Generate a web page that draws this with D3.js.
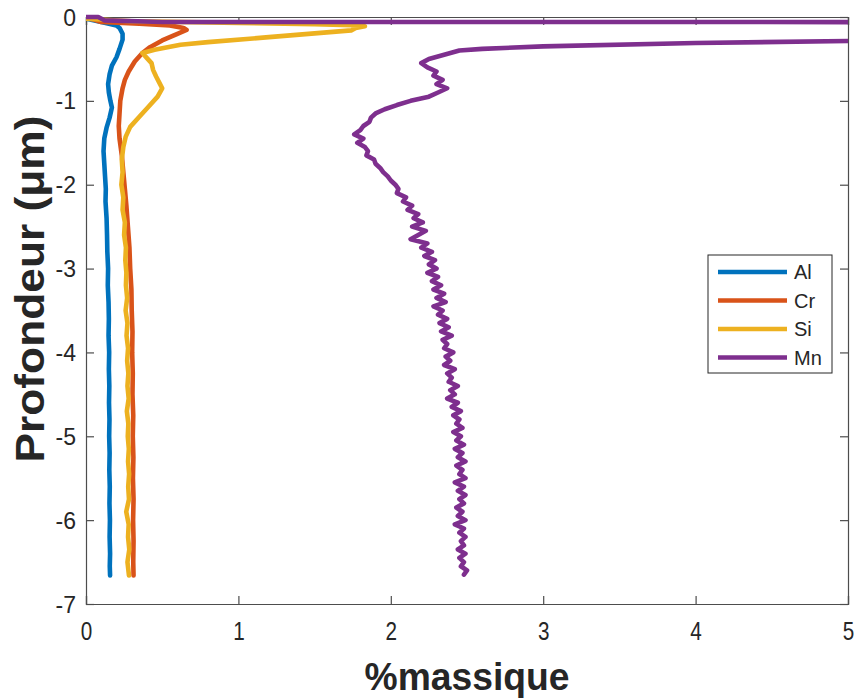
<!DOCTYPE html>
<html><head><meta charset="utf-8">
<script src="https://cdn.jsdelivr.net/npm/d3@7"></script>
<style>body{margin:0;background:#fff}svg{display:block}text{font-family:"Liberation Sans",Arial,sans-serif;fill:#262626}</style>
</head><body>
<svg id="c" width="856" height="698"></svg>
<script>
// [value (%massique), depth (µm)]
const seriesNames = ["Al", "Cr", "Si", "Mn"];
const seriesColors = ["#0072BD", "#D95319", "#EDB120", "#7E2F8E"];
const xTicks = [0, 1, 2, 3, 4, 5];
const yTicks = [0, -1, -2, -3, -4, -5, -6, -7];

const al = [[0,-0.02],[0.1,-0.06],[0.2,-0.1],[0.22,-0.13],[0.24,-0.2],[0.24,-0.27],[0.22,-0.38],[0.2,-0.48],[0.17,-0.58],[0.155,-0.68],[0.145,-0.8],[0.15,-0.9],[0.16,-1.0],[0.17,-1.08],[0.155,-1.2],[0.135,-1.32],[0.12,-1.45],[0.115,-1.6],[0.12,-1.75],[0.125,-1.9],[0.13,-2.05],[0.128,-2.2],[0.135,-2.4],[0.138,-2.6],[0.14,-2.8],[0.145,-3.0],[0.143,-3.2],[0.148,-3.4],[0.15,-3.6],[0.148,-3.8],[0.152,-4.0],[0.15,-4.2],[0.153,-4.4],[0.151,-4.6],[0.154,-4.8],[0.152,-5.0],[0.155,-5.2],[0.153,-5.4],[0.156,-5.6],[0.154,-5.8],[0.157,-6.0],[0.155,-6.2],[0.158,-6.4],[0.156,-6.55],[0.158,-6.66]];

const cr = [[0,-0.01],[0.05,-0.03],[0.1,-0.06],[0.35,-0.08],[0.55,-0.1],[0.64,-0.13],[0.66,-0.155],[0.6,-0.2],[0.5,-0.28],[0.42,-0.36],[0.37,-0.43],[0.32,-0.53],[0.28,-0.65],[0.255,-0.75],[0.24,-0.85],[0.225,-1.0],[0.22,-1.15],[0.215,-1.3],[0.22,-1.45],[0.235,-1.65],[0.245,-1.85],[0.255,-2.05],[0.265,-2.25],[0.275,-2.5],[0.285,-2.75],[0.29,-3.0],[0.298,-3.25],[0.3,-3.5],[0.305,-3.75],[0.303,-4.0],[0.307,-4.25],[0.305,-4.5],[0.31,-4.75],[0.307,-5.0],[0.311,-5.25],[0.308,-5.5],[0.312,-5.75],[0.309,-6.0],[0.312,-6.25],[0.31,-6.5],[0.312,-6.66]];

const si = [[0,-0.02],[0.3,-0.05],[1.0,-0.07],[1.5,-0.085],[1.8,-0.1],[1.83,-0.11],[1.77,-0.13],[1.74,-0.16],[1.2,-0.24],[0.8,-0.3],[0.62,-0.33],[0.45,-0.39],[0.37,-0.43],[0.4,-0.49],[0.43,-0.55],[0.44,-0.63],[0.46,-0.71],[0.48,-0.78],[0.5,-0.85],[0.47,-0.95],[0.41,-1.07],[0.35,-1.19],[0.29,-1.31],[0.26,-1.43],[0.245,-1.55],[0.235,-1.7],[0.24,-1.85],[0.232,-2.0],[0.245,-2.15],[0.24,-2.3],[0.255,-2.45],[0.25,-2.6],[0.262,-2.75],[0.258,-2.9],[0.265,-3.05],[0.262,-3.2],[0.27,-3.35],[0.26,-3.5],[0.272,-3.65],[0.266,-3.8],[0.276,-3.95],[0.27,-4.1],[0.278,-4.25],[0.272,-4.4],[0.28,-4.55],[0.268,-4.7],[0.278,-4.85],[0.274,-5.0],[0.281,-5.15],[0.276,-5.3],[0.283,-5.45],[0.277,-5.6],[0.282,-5.75],[0.264,-5.9],[0.28,-6.05],[0.276,-6.2],[0.284,-6.35],[0.272,-6.5],[0.282,-6.66]];

const mn = [[0,0],[0.08,0],[0.12,-0.04],[0.5,-0.06],[40,-0.065],[6,-0.25],[5,-0.286],[4,-0.31],[3,-0.35],[2.6,-0.38],[2.45,-0.4],[2.35,-0.45],[2.25,-0.5],[2.2,-0.55],[2.24,-0.6],[2.3,-0.65],[2.28,-0.7],[2.34,-0.75],[2.3,-0.8],[2.37,-0.85],[2.31,-0.9],[2.25,-0.95],[2.13,-1.0],[2.04,-1.05],[1.96,-1.1],[1.9,-1.15],[1.87,-1.2],[1.86,-1.25],[1.82,-1.3],[1.8,-1.35],[1.76,-1.4],[1.82,-1.45],[1.78,-1.5],[1.83,-1.55],[1.85,-1.6],[1.84,-1.65],[1.89,-1.7],[1.9,-1.75],[1.93,-1.8],[1.95,-1.85],[1.98,-1.9],[2.0,-1.95],[2.03,-2.0],[2.05,-2.05],[2.04,-2.1],[2.1,-2.15],[2.08,-2.2],[2.14,-2.25],[2.11,-2.3],[2.18,-2.35],[2.15,-2.4],[2.21,-2.45],[2.14,-2.5],[2.23,-2.55],[2.18,-2.6],[2.13,-2.65],[2.24,-2.7],[2.2,-2.75],[2.27,-2.8],[2.22,-2.85],[2.29,-2.9],[2.25,-2.95],[2.3,-3.0],[2.24,-3.05],[2.31,-3.1],[2.27,-3.15],[2.33,-3.2],[2.28,-3.25],[2.35,-3.3],[2.3,-3.35],[2.36,-3.4],[2.28,-3.45],[2.34,-3.5],[2.31,-3.55],[2.37,-3.6],[2.32,-3.65],[2.38,-3.7],[2.33,-3.75],[2.4,-3.8],[2.34,-3.85],[2.37,-3.9],[2.35,-3.95],[2.41,-4.0],[2.36,-4.05],[2.39,-4.1],[2.35,-4.15],[2.42,-4.2],[2.37,-4.25],[2.4,-4.3],[2.38,-4.35],[2.44,-4.4],[2.39,-4.45],[2.42,-4.5],[2.37,-4.55],[2.44,-4.6],[2.4,-4.65],[2.46,-4.7],[2.41,-4.75],[2.45,-4.8],[2.43,-4.85],[2.47,-4.9],[2.41,-4.95],[2.46,-5.0],[2.43,-5.05],[2.48,-5.1],[2.42,-5.15],[2.47,-5.2],[2.44,-5.25],[2.49,-5.3],[2.43,-5.35],[2.47,-5.4],[2.45,-5.45],[2.49,-5.5],[2.42,-5.55],[2.48,-5.6],[2.44,-5.65],[2.49,-5.7],[2.45,-5.75],[2.48,-5.8],[2.43,-5.85],[2.47,-5.9],[2.44,-5.95],[2.49,-6.0],[2.42,-6.05],[2.48,-6.1],[2.45,-6.15],[2.49,-6.2],[2.46,-6.25],[2.48,-6.3],[2.44,-6.35],[2.49,-6.4],[2.45,-6.45],[2.48,-6.5],[2.46,-6.55],[2.5,-6.6],[2.48,-6.65]];

const seriesData = [al, cr, si, mn];

const svg = d3.select("#c");
const L = 86, R = 848, T = 17, B = 604;
const x = d3.scaleLinear().domain([0, 5]).range([L, R]);
const y = d3.scaleLinear().domain([-7, 0]).range([B, T]);

svg.append("defs").append("clipPath").attr("id", "clip")
  .append("rect").attr("x", L).attr("y", T - 3).attr("width", R - L).attr("height", B - T + 3);

const tl = 8;
const axColor = "#4d4d4d";
const fmt = d => String(d);
// bottom
const gx = svg.append("g").attr("transform", `translate(0,${B})`)
  .call(d3.axisBottom(x).tickValues(xTicks).tickSize(-tl).tickPadding(16).tickFormat(fmt));
// top
const gxt = svg.append("g").attr("transform", `translate(0,${T})`)
  .call(d3.axisTop(x).tickValues(xTicks).tickSize(-tl).tickFormat(""));
// left
const gy = svg.append("g").attr("transform", `translate(${L},0)`)
  .call(d3.axisLeft(y).tickValues(yTicks).tickSize(-tl).tickPadding(10).tickFormat(fmt));
// right
const gyr = svg.append("g").attr("transform", `translate(${R},0)`)
  .call(d3.axisRight(y).tickValues(yTicks).tickSize(-tl).tickFormat(""));
[gx, gxt, gy, gyr].forEach(g => {
  g.select(".domain").attr("stroke", axColor).attr("stroke-width", 1.2);
  g.selectAll(".tick line").attr("stroke", axColor).attr("stroke-width", 1.2);
  g.selectAll(".tick text").attr("font-size", 23).attr("fill", "#262626")
   .attr("font-family", "Liberation Sans, Arial, sans-serif");
});
gx.selectAll(".tick text").attr("transform", "scale(0.9,1.1)");
gy.selectAll(".tick text").attr("dy", "0.35em");

const line = d3.line().x(d => x(d[0])).y(d => y(d[1]));
const plot = svg.append("g").attr("clip-path", "url(#clip)");
seriesData.forEach((s, i) => {
  plot.append("path").datum(s).attr("d", line).attr("fill", "none")
    .attr("stroke", seriesColors[i]).attr("stroke-width", 4.6)
    .attr("stroke-linejoin", "round").attr("stroke-linecap", "round");
});

// legend
const lg = svg.append("g");
lg.append("rect").attr("x", 708).attr("y", 255).attr("width", 124).attr("height", 118)
  .attr("fill", "#fff").attr("stroke", "#262626").attr("stroke-width", 1);
seriesNames.forEach((n, i) => {
  const yy = 272 + i * 28.5;
  lg.append("line").attr("x1", 718).attr("x2", 787).attr("y1", yy).attr("y2", yy)
    .attr("stroke", seriesColors[i]).attr("stroke-width", 4.6);
  lg.append("text").attr("x", 794).attr("y", yy).attr("dy", "0.36em")
    .attr("font-size", 20).text(n);
});

// axis titles
svg.append("text").attr("x", 467).attr("y", 690).attr("text-anchor", "middle")
  .attr("font-size", 38).attr("font-weight", "bold")
  .attr("textLength", 205).attr("lengthAdjust", "spacingAndGlyphs").text("%massique");
svg.append("text").attr("transform", "translate(44,289) rotate(-90)").attr("text-anchor", "middle")
  .attr("font-size", 40).attr("font-weight", "bold")
  .attr("textLength", 347).attr("lengthAdjust", "spacingAndGlyphs").text("Profondeur (μm)");
</script>
</body></html>
